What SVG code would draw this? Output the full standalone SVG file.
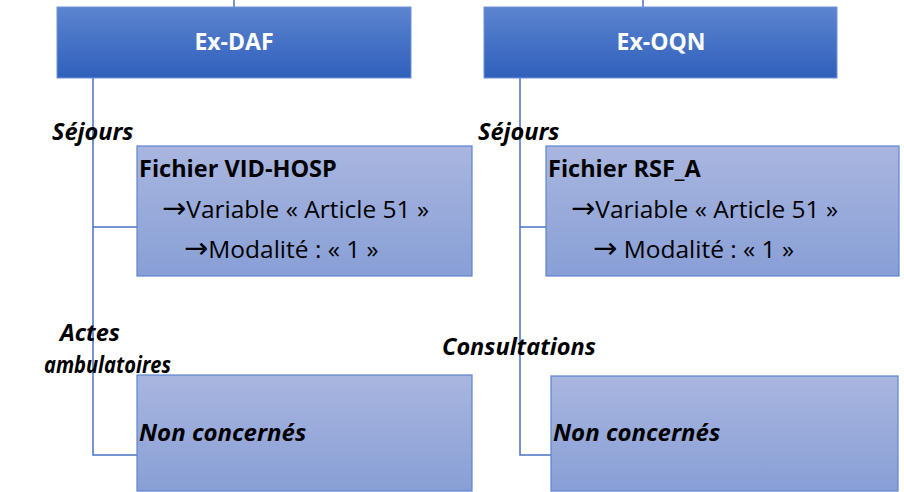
<svg xmlns="http://www.w3.org/2000/svg" width="904" height="492" viewBox="0 0 904 492">
<defs>
<linearGradient id="gHead" x1="0" y1="0" x2="0" y2="1">
<stop offset="0" stop-color="#5c84d0"/>
<stop offset="1" stop-color="#2f60bb"/>
</linearGradient>
<linearGradient id="gBox" x1="0" y1="0" x2="0" y2="1">
<stop offset="0" stop-color="#a9b6df"/>
<stop offset="1" stop-color="#889fd6"/>
</linearGradient>
<style>
.head{fill:url(#gHead);stroke:#6e92d8;stroke-width:1}
.box{fill:url(#gBox);stroke:#5d84d2;stroke-width:1.2}
.conn{fill:none;stroke:#4a72c4;stroke-width:1.5}
.ht{font-family:"Open Sans","Noto Sans",sans-serif;font-weight:bold;font-size:23px;fill:#ffffff;text-anchor:middle}
.lbl{font-family:"Open Sans","Noto Sans",sans-serif;font-weight:bold;font-style:italic;font-size:23.5px;fill:#000000}
.t{font-family:"Open Sans","Noto Sans",sans-serif;font-size:24.5px;fill:#000000}
.tb{font-weight:bold;font-size:23.5px}
.ti{font-weight:bold;font-style:italic;font-size:24px}
.ar{font-family:"DejaVu Sans",sans-serif;font-size:29px}
</style>
</defs>
<g id="connectors">
<line class="conn" x1="234" y1="0" x2="234" y2="7"/>
<line class="conn" x1="643" y1="0" x2="643" y2="7"/>
<polyline class="conn" points="93,78 93,455 137,455"/>
<line class="conn" x1="93" y1="227" x2="137" y2="227"/>
<polyline class="conn" points="520,78 520,455 551,455"/>
<line class="conn" x1="520" y1="227" x2="546" y2="227"/>
</g>
<g id="node-exdaf">
<rect class="head" x="57" y="7" width="354" height="71"/>
<text class="ht" x="234" y="50">Ex-DAF</text>
</g>
<g id="node-exoqn">
<rect class="head" x="484" y="7" width="353" height="71"/>
<text class="ht" x="661" y="50">Ex-OQN</text>
</g>
<g id="label-sejours-left"><text class="lbl" x="52" y="140">Séjours</text></g>
<g id="label-sejours-right"><text class="lbl" x="478" y="140">Séjours</text></g>
<g id="node-vidhosp">
<rect class="box" x="137" y="146" width="335" height="130"/>
<text class="t tb" x="139" y="177">Fichier VID-HOSP</text>
<text class="t" x="162" y="218"><tspan class="ar">→</tspan>Variable « Article 51 »</text>
<text class="t" x="184" y="258"><tspan class="ar">→</tspan>Modalité : « 1 »</text>
</g>
<g id="node-rsfa">
<rect class="box" x="546" y="146" width="353" height="130"/>
<text class="t tb" x="548" y="177">Fichier RSF_A</text>
<text class="t" x="571" y="218"><tspan class="ar">→</tspan>Variable « Article 51 »</text>
<text class="t" x="593" y="258"><tspan class="ar">→</tspan> Modalité : « 1 »</text>
</g>
<g id="label-actes">
<text class="lbl" x="90" y="341" text-anchor="middle">Actes</text>
<text class="lbl" x="44" y="373" font-size="22" textLength="127" lengthAdjust="spacingAndGlyphs">ambulatoires</text>
</g>
<g id="label-consultations"><text class="lbl" x="442" y="355">Consultations</text></g>
<g id="node-nc-left">
<rect class="box" x="137" y="375" width="335" height="116"/>
<text class="t ti" x="139" y="441">Non concernés</text>
</g>
<g id="node-nc-right">
<rect class="box" x="551" y="376" width="347" height="115"/>
<text class="t ti" x="553" y="441">Non concernés</text>
</g>
</svg>
